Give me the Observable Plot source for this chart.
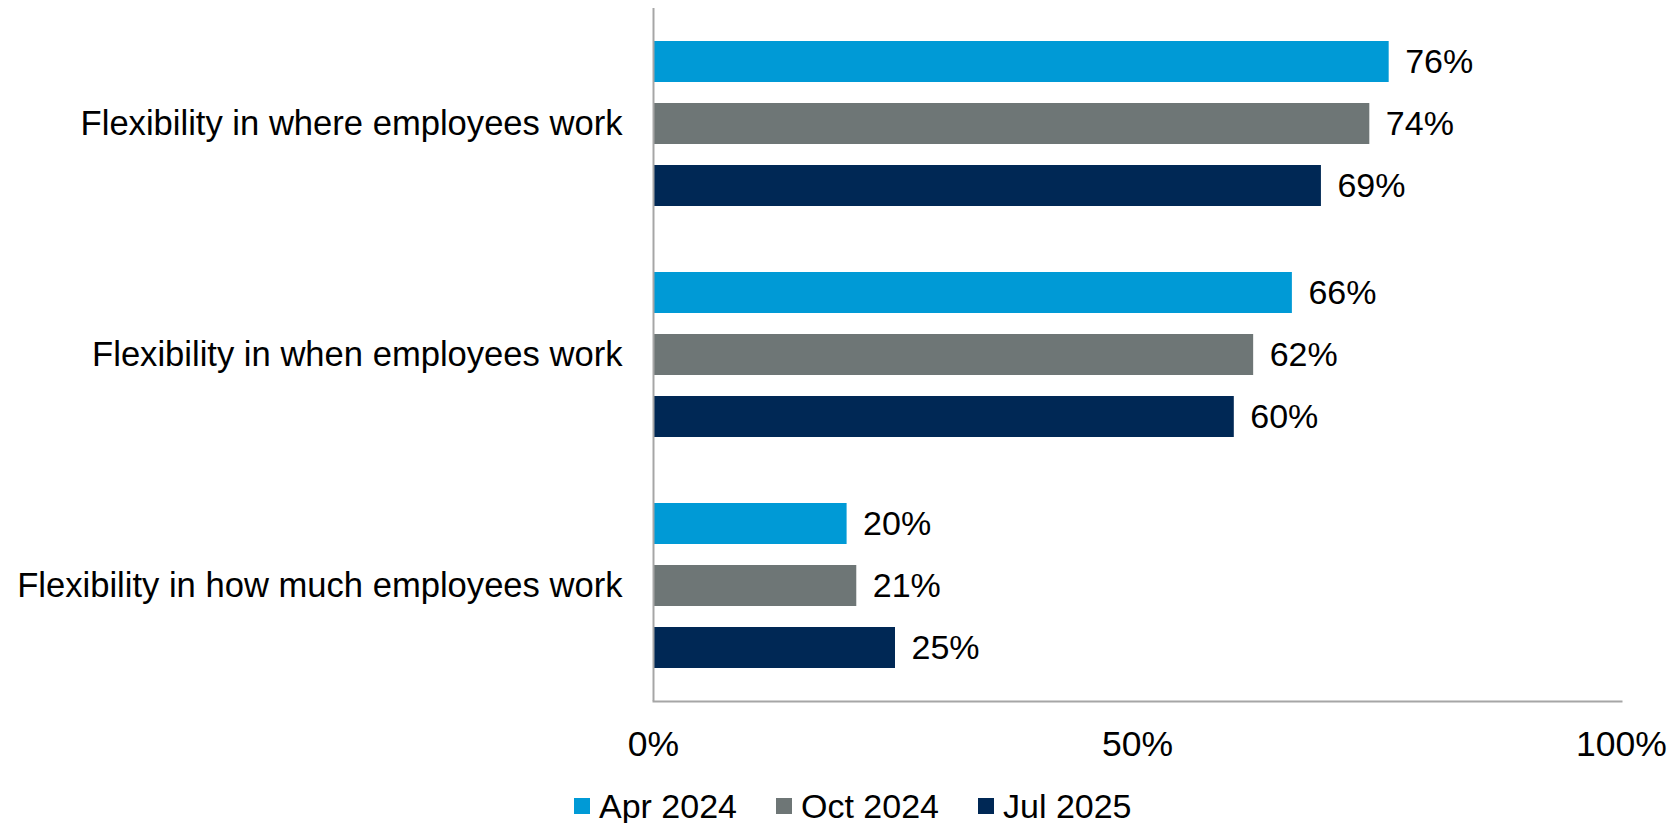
<!DOCTYPE html>
<html>
<head>
<meta charset="utf-8">
<script src="https://cdn.jsdelivr.net/npm/d3@7"></script>
<script src="https://cdn.jsdelivr.net/npm/@observablehq/plot@0.6"></script>
<style>
  html, body { margin: 0; padding: 0; background: #fff; }
  body { font-family: "Liberation Sans", Arial, sans-serif; width: 1668px; height: 823px; overflow: hidden; }
  #legend { display: flex; align-items: center; padding-left: 574px; padding-top: 19px; height: 34px; gap: 39px; font-size: 34px; color: #000; }
  .item { display: flex; align-items: center; }
  .sw { width: 16px; height: 16px; margin-right: 9px; display: inline-block; }
</style>
</head>
<body>
<div id="chart"></div>
<div id="legend"></div>
<script>
const categories = [
  "Flexibility in where employees work",
  "Flexibility in when employees work",
  "Flexibility in how much employees work"
];
const seriesNames = ["Apr 2024", "Oct 2024", "Jul 2025"];
const seriesColors = ["#009AD6", "#6E7676", "#002855"];
const apr2024 = [76, 66, 20];
const oct2024 = [74, 62, 21];
const jul2025 = [69, 60, 25];
const xTicks = [0, 50, 100];

const seriesValues = [apr2024, oct2024, jul2025];
const data = [];
categories.forEach((c, i) => {
  seriesNames.forEach((s, j) => {
    data.push({category: c, series: s, value: seriesValues[j][i]});
  });
});

const plot = Plot.plot({
  width: 1668,
  height: 770,
  marginLeft: 653,
  marginRight: 47,
  marginTop: 7,
  marginBottom: 68,
  style: {fontFamily: "'Liberation Sans', Arial, sans-serif", fontSize: "34px", color: "#000", background: "#fff"},
  x: {domain: [0, 100], label: null},
  y: {domain: seriesNames, axis: null, paddingInner: 1/3, paddingOuter: 0.505},
  fy: {domain: categories, padding: 0, label: null},
  color: {domain: seriesNames, range: seriesColors},
  marks: [
    Plot.barX(data, {fy: "category", y: "series", x: "value", fill: "series"}),
    Plot.text(data, {fy: "category", y: "series", x: "value", text: d => d.value + "%", textAnchor: "start", dx: 16, fontSize: 34, fill: "#000"}),
    Plot.ruleX([0], {stroke: "#A6A6A6", strokeWidth: 2}),
    Plot.frame({anchor: "bottom", stroke: "#A6A6A6", strokeWidth: 2, fy: () => categories[2]}),
    Plot.axisX({ticks: xTicks, tickFormat: d => d + "%", tickSize: 0, tickPadding: 29, fontSize: 35.5, label: null, fill: "#000"}),
    Plot.axisFy({anchor: "left", tickSize: 0, tickPadding: 31, fontSize: 34.6, label: null, fill: "#000"})
  ]
});
document.getElementById("chart").appendChild(plot);

const legend = document.getElementById("legend");
seriesNames.forEach((s, i) => {
  const item = document.createElement("div");
  item.className = "item";
  const sw = document.createElement("span");
  sw.className = "sw";
  sw.style.background = seriesColors[i];
  item.appendChild(sw);
  item.appendChild(document.createTextNode(s));
  legend.appendChild(item);
});
</script>
</body>
</html>
